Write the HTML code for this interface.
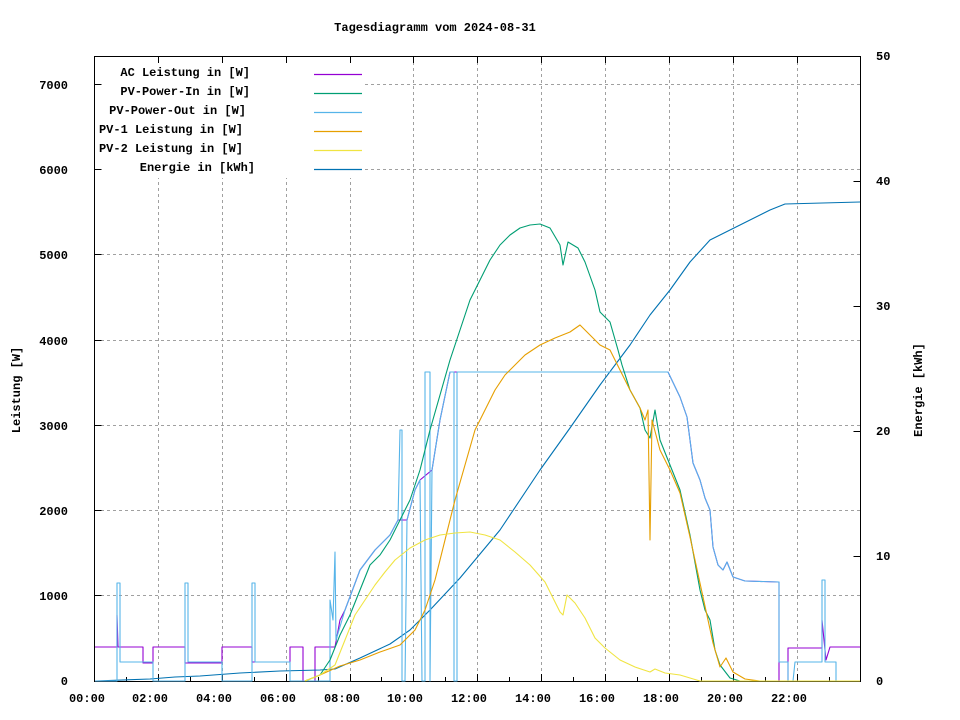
<!DOCTYPE html>
<html><head><meta charset="utf-8"><style>
body{margin:0;background:#fff}
svg{display:block}
text{font-family:"Liberation Mono","DejaVu Sans Mono",monospace;font-size:12px;font-weight:bold;fill:#000}
</style></head><body>
<svg width="960" height="720" viewBox="0 0 960 720" xmlns="http://www.w3.org/2000/svg">
<text x="435" y="31" text-anchor="middle">Tagesdiagramm vom 2024-08-31</text>
<g stroke="#a0a0a0" stroke-width="1" stroke-dasharray="3,3" fill="none">
<path d="M158.5 56V681M222.5 56V681M286.5 56V681M350.5 56V681M413.5 56V681M477.5 56V681M541.5 56V681M605.5 56V681M669.5 56V681M733.5 56V681M797.5 56V681"/>
<path d="M95 595.5H860M95 510.5H860M95 425.5H860M95 340.5H860M95 254.5H860M95 169.5H860M95 84.5H860"/>
</g>
<rect x="95" y="60" width="270" height="118" fill="#fff"/>
<g stroke="#000" stroke-width="1" fill="none">
<rect x="94.5" y="56.5" width="766" height="625"/>
<path d="M94.5 595.5h7M94.5 510.5h7M94.5 425.5h7M94.5 340.5h7M94.5 254.5h7M94.5 169.5h7M94.5 84.5h7"/>
<path d="M860.5 556.5h-7M860.5 431.5h-7M860.5 306.5h-7M860.5 181.5h-7"/>
<path d="M158.5 681v-7M222.5 681v-7M286.5 681v-7M350.5 681v-7M413.5 681v-7M477.5 681v-7M541.5 681v-7M605.5 681v-7M669.5 681v-7M733.5 681v-7M797.5 681v-7M158.5 56v7M222.5 56v7M286.5 56v7M350.5 56v7M413.5 56v7M477.5 56v7M541.5 56v7M605.5 56v7M669.5 56v7M733.5 56v7M797.5 56v7"/>
<path d="M126.5 681v-4M190.5 681v-4M254.5 681v-4M318.5 681v-4M381.5 681v-4M445.5 681v-4M509.5 681v-4M573.5 681v-4M637.5 681v-4M701.5 681v-4M765.5 681v-4M829.5 681v-4"/>
</g>
<g text-anchor="end">
<text x="68" y="685">0</text><text x="68" y="600">1000</text><text x="68" y="515">2000</text><text x="68" y="430">3000</text><text x="68" y="345">4000</text><text x="68" y="259">5000</text><text x="68" y="174">6000</text><text x="68" y="89">7000</text>
</g>
<g>
<text x="876" y="685">0</text><text x="876" y="560">10</text><text x="876" y="435">20</text><text x="876" y="310">30</text><text x="876" y="185">40</text><text x="876" y="60">50</text>
</g>
<g text-anchor="middle">
<text x="87" y="702">00:00</text><text x="150" y="702">02:00</text><text x="214" y="702">04:00</text><text x="278" y="702">06:00</text><text x="342" y="702">08:00</text><text x="405" y="702">10:00</text><text x="469" y="702">12:00</text><text x="533" y="702">14:00</text><text x="597" y="702">16:00</text><text x="661" y="702">18:00</text><text x="725" y="702">20:00</text><text x="789" y="702">22:00</text>
</g>
<text transform="translate(20,390) rotate(-90)" text-anchor="middle">Leistung [W]</text>
<text transform="translate(922,390) rotate(-90)" text-anchor="middle">Energie [kWh]</text>
<g text-anchor="end">
<text x="250" y="76">AC Leistung in [W]</text>
<text x="250" y="95">PV-Power-In in [W]</text>
<text x="246" y="114">PV-Power-Out in [W]</text>
<text x="243" y="133">PV-1 Leistung in [W]</text>
<text x="243" y="152">PV-2 Leistung in [W]</text>
<text x="255" y="171">Energie in [kWh]</text>
</g>
<g stroke-width="1.2" fill="none">
<path d="M314 74.5h48" stroke="#9400d3"/>
<path d="M314 93.5h48" stroke="#009e73"/>
<path d="M314 112.5h48" stroke="#56b4e9"/>
<path d="M314 131.5h48" stroke="#e69f00"/>
<path d="M314 150.5h48" stroke="#f0e442"/>
<path d="M314 169.5h48" stroke="#0072b2"/>
</g>
<g fill="none" stroke-width="1.1" stroke-linejoin="round">
<!-- AC -->
<polyline stroke="#9400d3" points="95,647 117,647 117,615 118,647 143,647 143,663 153,663 153,647 185,647 185,663 222,663 222,647 252,647 252,662 290,662 290,647 303,647 303,681 315,681 315,647 335,647 340,620 345,610 360,570 375,550 390,535 398,520 407,520 415,490 420,480 432,470 440,420 450,372 668,372 680,397 687,417 693,463 700,480 705,498 710,510 713,547 718,565 723,570 727,562 733,577 745,581 779,582 779,681 788,681 788,648 822,648 822,620 826,660 830,647 860,647"/>
<!-- Energy -->
<polyline stroke="#0072b2" points="95,681 150,679 175,677 200,676 240,673 280,671 320,670 335,669 360,658 390,644 410,630 430,610 460,578 500,530 540,470 570,428 600,385 630,345 650,315 670,290 690,262 710,240 740,225 770,210 785,204 860,202"/>
<!-- PV-Power-Out -->
<polyline stroke="#56b4e9" points="95,681 117,681 117,583 120,583 120,662 153,662 153,681 185,681 185,583 188,583 188,662 222,662 222,681 252,681 252,583 255,583 255,662 290,662 290,681 330,681 330,600 333,620 335,552 336,640 345,610 360,570 375,550 390,535 398,520 400,430 402,430 402,681 405,681 407,520 415,490 420,480 422,681 425,681 425,372 430,372 430,681 432,470 440,420 450,372 454,372 454,681 457,681 457,372 668,372 680,397 687,417 693,463 700,480 705,498 710,510 713,547 718,565 723,570 727,562 733,577 745,581 779,582 779,662 788,662 788,681 793,681 795,662 822,662 822,580 825,580 825,662 836,662 836,681 860,681"/>
<!-- PV-Power-In -->
<polyline stroke="#009e73" points="305,681 320,675 330,660 340,635 350,615 360,590 370,565 380,555 390,540 400,520 410,500 420,470 430,430 440,395 450,360 460,330 470,300 480,280 490,260 500,245 510,235 520,228 530,225 540,224 550,228 560,245 563,265 568,242 578,248 585,262 595,290 600,312 610,322 618,350 622,365 630,390 640,408 645,430 650,438 655,410 660,440 670,465 680,490 690,535 700,590 705,610 710,620 715,650 720,665 730,678 740,681 860,681"/>
<!-- PV-1 -->
<polyline stroke="#e69f00" points="305,681 320,675 340,666 360,660 380,652 400,645 415,630 425,610 435,580 445,540 455,500 465,465 475,430 485,410 495,390 505,375 515,365 525,355 540,345 555,338 570,332 580,325 590,335 600,345 610,350 620,370 630,390 640,408 645,420 648,410 650,540 652,420 660,450 670,470 680,493 690,537 703,597 713,643 720,667 726,658 733,672 745,679 760,681 860,681"/>
<!-- PV-2 -->
<polyline stroke="#f0e442" points="305,681 320,675 335,665 345,640 355,615 365,600 375,585 385,572 395,560 410,548 425,540 440,535 455,533 470,532 485,535 500,540 515,552 530,565 545,582 560,612 563,615 567,595 575,603 585,618 595,638 605,648 620,660 635,667 650,672 655,669 665,673 680,675 700,681 860,681"/>
</g>
</svg>
</body></html>
